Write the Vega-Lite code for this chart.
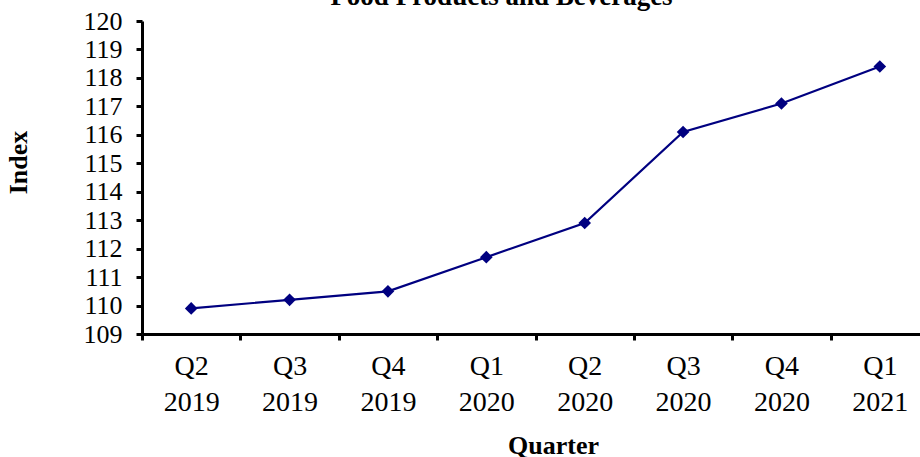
{
  "$schema": "https://vega.github.io/schema/vega-lite/v6.json",
  "autosize": {"type": "none"},
  "width": 787,
  "height": 313,
  "padding": {"left": 142, "top": 21, "right": 0, "bottom": 123},
  "background": "white",
  "config": {"view": {"stroke": null}, "font": "Liberation Serif"},
  "title": {
    "text": "Food Products and Beverages",
    "font": "Liberation Serif",
    "fontSize": 27,
    "fontWeight": "bold",
    "color": "black",
    "anchor": "middle",
    "dx": -34,
    "offset": -3
  },
  "data": {
    "values": [
      {"quarter": "Q2 2019", "index": 109.9},
      {"quarter": "Q3 2019", "index": 110.2},
      {"quarter": "Q4 2019", "index": 110.5},
      {"quarter": "Q1 2020", "index": 111.7},
      {"quarter": "Q2 2020", "index": 112.9},
      {"quarter": "Q3 2020", "index": 116.1},
      {"quarter": "Q4 2020", "index": 117.1},
      {"quarter": "Q1 2021", "index": 118.4}
    ]
  },
  "mark": {
    "type": "line",
    "color": "#000080",
    "strokeWidth": 2.2,
    "point": {"shape": "diamond", "size": 160, "filled": true, "color": "#000080", "opacity": 1}
  },
  "encoding": {
    "x": {
      "field": "quarter",
      "type": "ordinal",
      "sort": null,
      "scale": {"type": "band", "paddingInner": 0, "paddingOuter": 0},
      "axis": {
        "title": "Quarter",
        "titleFont": "Liberation Serif",
        "titleFontSize": 26,
        "titleFontWeight": "bold",
        "titleColor": "black",
        "titlePadding": 16,
        "titleX": 411,
        "labelExpr": "split(datum.label, ' ')",
        "labelFont": "Liberation Serif",
        "labelFontSize": 28,
        "labelColor": "black",
        "labelLineHeight": 36,
        "labelAngle": 0,
        "labelPadding": 12,
        "ticks": true,
        "tickBand": "extent",
        "tickColor": "black",
        "tickWidth": 3,
        "tickSize": 6,
        "domainColor": "black",
        "domainWidth": 3
      }
    },
    "y": {
      "field": "index",
      "type": "quantitative",
      "scale": {"domain": [109, 120], "nice": false, "zero": false},
      "axis": {
        "title": "Index",
        "titleFont": "Liberation Serif",
        "titleFontSize": 26,
        "titleFontWeight": "bold",
        "titleColor": "black",
        "titlePadding": 52,
        "titleY": 141,
        "values": [109,110,111,112,113,114,115,116,117,118,119,120],
        "labelFont": "Liberation Serif",
        "labelFontSize": 26,
        "labelColor": "black",
        "labelPadding": 14,
        "tickColor": "black",
        "tickWidth": 3,
        "tickSize": 6,
        "domainColor": "black",
        "domainWidth": 3,
        "grid": false
      }
    }
  }
}
